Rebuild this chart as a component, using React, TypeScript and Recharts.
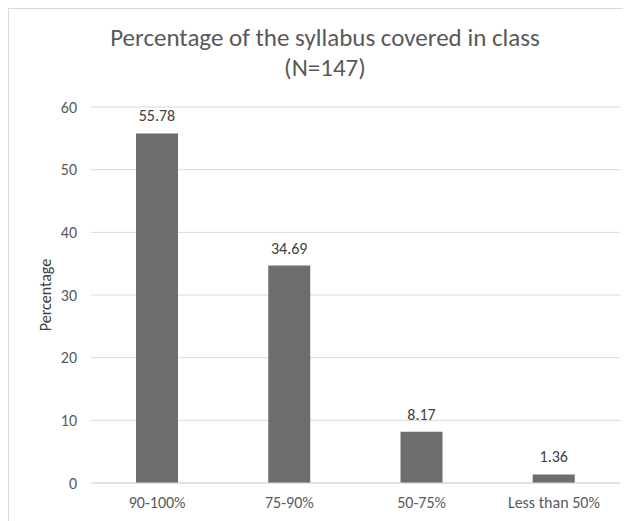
import { BarChart, Bar, XAxis, YAxis, CartesianGrid, LabelList } from "recharts";

const categories = ["90-100%", "75-90%", "50-75%", "Less than 50%"];
const percentages = [55.78, 34.69, 8.17, 1.36];
const yTicks = [0, 10, 20, 30, 40, 50, 60];

const data = categories.map((name, i) => ({ name, value: percentages[i] }));

const font = "Carlito, Lato, 'Open Sans', sans-serif";
const textColor = "#595959";
const gridColor = "#d9d9d9";

export default function App() {
  return (
    <div
      style={{
        width: 622,
        height: 512,
        overflow: "hidden",
        borderTop: `1px solid ${gridColor}`,
        borderLeft: `1px solid ${gridColor}`,
        background: "#fff",
        fontFamily: font,
      }}
    >
      <div style={{ position: "relative", width: 634, height: 520 }}>
        <div
          style={{
            position: "absolute",
            left: 0,
            width: 632,
            top: 14,
            textAlign: "center",
            color: textColor,
            fontSize: 25,
            lineHeight: "30px",
          }}
        >
          Percentage of the syllabus covered in class
          <br />
          (N=147)
        </div>
        <BarChart
          width={634}
          height={520}
          data={data}
          margin={{ top: 98, right: 23, left: 22, bottom: 16 }}
        >
          <CartesianGrid vertical={false} stroke={gridColor} />
          <XAxis
            dataKey="name"
            height={30}
            tickLine={false}
            tickMargin={8}
            axisLine={{ stroke: gridColor }}
            tick={{ fill: textColor, fontSize: 16, fontFamily: font }}
          />
          <YAxis
            width={60}
            domain={[0, 60]}
            ticks={yTicks}
            tickLine={false}
            axisLine={false}
            tickMargin={8}
            tick={{ fill: textColor, fontSize: 16, fontFamily: font }}
            label={{
              value: "Percentage",
              angle: -90,
              position: "insideLeft",
              offset: 14,
              style: { fill: "#404040", fontSize: 16, fontFamily: font, textAnchor: "middle" },
            }}
          />
          <Bar dataKey="value" fill="#6d6d6d" barSize={42} isAnimationActive={false}>
            <LabelList
              dataKey="value"
              position="top"
              offset={12}
              style={{ fill: "#404040", fontSize: 16, fontFamily: font }}
            />
          </Bar>
        </BarChart>
      </div>
    </div>
  );
}
